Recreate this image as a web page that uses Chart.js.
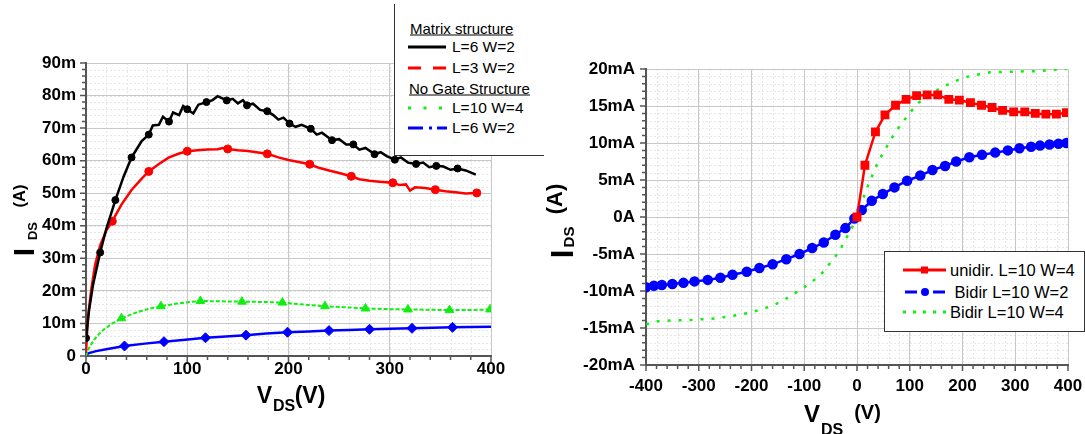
<!DOCTYPE html>
<html>
<head>
<meta charset="utf-8">
<script src="https://cdn.jsdelivr.net/npm/chart.js@4.4.1/dist/chart.umd.min.js"></script>
<style>
  body { margin:0; background:#fff; font-family:'Liberation Sans', Arial, sans-serif; }
  #wrap { position:relative; width:1085px; height:434px; overflow:hidden; }
  canvas { position:absolute; top:0; }
  .t { position:absolute; line-height:1; white-space:nowrap; font-weight:bold; color:#000; transform:translate(-50%,-50%); }
  .t.rot { transform:translate(-50%,-50%) rotate(-90deg); }
  .lg { position:absolute; line-height:1; white-space:nowrap; color:#000; transform:translateY(-50%); }
  .box { position:absolute; background:#fff; box-sizing:border-box; }
  svg { position:absolute; overflow:visible; }
</style>
</head>
<body>
<div id="wrap">
  <canvas id="left" width="540" height="434" style="left:0"></canvas>
  <canvas id="right" width="545" height="434" style="left:540px"></canvas>

  <!-- axis titles, left chart -->
  <div class="t rot" style="left:24px;top:251.5px;font-size:30px">I</div>
  <div class="t rot" style="left:32px;top:231px;font-size:13px">DS</div>
  <div class="t rot" style="left:19px;top:196px;font-size:16.5px">(A)</div>
  <div class="t" style="left:264.5px;top:395px;font-size:23px">V</div>
  <div class="t" style="left:284px;top:406px;font-size:16px">DS</div>
  <div class="t" style="left:310px;top:394.5px;font-size:23px">(V)</div>

  <!-- axis titles, right chart -->
  <div class="t rot" style="left:561.5px;top:254px;font-size:31px">I</div>
  <div class="t rot" style="left:567.5px;top:236.7px;font-size:15px">DS</div>
  <div class="t rot" style="left:554.6px;top:198.5px;font-size:22px">(A)</div>
  <div class="t" style="left:812px;top:413.5px;font-size:24px">V</div>
  <div class="t" style="left:832px;top:429.5px;font-size:16px">DS</div>
  <div class="t" style="left:867.5px;top:412.3px;font-size:20px">(V)</div>

  <!-- legend, left chart -->
  <div class="box" style="left:394px;top:4px;width:150px;height:152px;border-left:1px solid #333;border-bottom:1px solid #333"></div>
  <div class="lg" style="left:410px;top:27.5px;font-size:15px;text-decoration:underline">Matrix structure</div>
  <svg style="left:408px;top:47px" width="40" height="1"><line x1="0" y1="0" x2="38" y2="0" stroke="#000" stroke-width="3"/></svg>
  <div class="lg" style="left:452px;top:47px;font-size:15.5px">L=6 W=2</div>
  <svg style="left:408px;top:68px" width="40" height="1"><line x1="0" y1="0" x2="39" y2="0" stroke="#f00" stroke-width="3" stroke-dasharray="13 12"/></svg>
  <div class="lg" style="left:452px;top:68px;font-size:15.5px">L=3 W=2</div>
  <div class="lg" style="left:409px;top:88px;font-size:15px;text-decoration:underline">No Gate Structure</div>
  <svg style="left:408px;top:108px" width="40" height="1"><line x1="0" y1="0" x2="38" y2="0" stroke="#11ee11" stroke-width="3" stroke-dasharray="3 12.5"/></svg>
  <div class="lg" style="left:452px;top:108px;font-size:15.5px">L=10 W=4</div>
  <svg style="left:408px;top:128px" width="40" height="1"><line x1="0" y1="0" x2="39" y2="0" stroke="#00f" stroke-width="3" stroke-dasharray="15 6 3 5"/></svg>
  <div class="lg" style="left:452px;top:128px;font-size:15.5px">L=6 W=2</div>

  <!-- legend, right chart -->
  <div class="box" style="left:884px;top:251px;width:201px;height:81px;border:1px solid #333"></div>
  <svg style="left:903px;top:270px" width="44" height="1"><line x1="0" y1="0" x2="43" y2="0" stroke="#f00" stroke-width="3"/><rect x="18" y="-3.5" width="7" height="7" fill="#f00"/></svg>
  <div class="lg" style="left:950px;top:270px;font-size:16.5px">unidir. L=10 W=4</div>
  <svg style="left:903px;top:291.5px" width="44" height="1"><line x1="2" y1="0" x2="14" y2="0" stroke="#00f" stroke-width="3"/><line x1="30" y1="0" x2="42" y2="0" stroke="#00f" stroke-width="3"/><circle cx="22" cy="0" r="4" fill="#00f"/></svg>
  <div class="lg" style="left:950px;top:291.5px;font-size:16.5px">&nbsp;Bidir L=10 W=2</div>
  <svg style="left:903px;top:312px" width="44" height="1"><line x1="0" y1="0" x2="43" y2="0" stroke="#11ee11" stroke-width="3" stroke-dasharray="3 7"/></svg>
  <div class="lg" style="left:950px;top:312px;font-size:16.5px">Bidir L=10 W=4</div>
</div>

<script>
// ---------- left chart: I_DS vs V_DS (mA) ----------
const leftTicksX = [0, 100, 200, 300, 400];
const leftTicksY = [0, 10, 20, 30, 40, 50, 60, 70, 80, 90];

const blackV = [0, 3, 7, 14, 20, 29, 37, 45, 50, 55, 62, 66, 72, 76, 82, 86, 92, 96, 100, 106, 111, 119, 125, 130, 139, 145, 150, 155, 159, 165, 172, 179, 185, 190, 195, 201, 207, 213, 222, 228, 233, 243, 250, 257, 264, 270, 276, 285, 291, 297, 305, 311, 318, 326, 333, 339, 346, 353, 360, 367, 375, 385];
const blackI = [5.5, 14, 22, 31.8, 39, 47.9, 55, 61, 63.5, 66, 68, 70.8, 71, 73.5, 72, 74.8, 74, 76.8, 75.8, 74.5, 77.2, 78, 78.6, 79.8, 78.5, 79, 77.6, 78.6, 77, 77.5, 75.6, 75.2, 74, 72.6, 73.2, 71.4, 70.4, 71, 69.8, 68, 68.6, 66.3, 66.6, 65, 65, 63.4, 63.9, 62, 62.6, 61.4, 60.3, 61, 59.4, 59, 59.4, 58, 58.4, 58.2, 57.2, 57.6, 57, 55.7];
const blackMarkV = [0, 14, 29, 45, 62, 82, 100, 119, 139, 159, 179, 201, 222, 243, 264, 285, 305, 326, 346, 367];
const blackMarkI = [5.5, 31.8, 47.9, 61, 68, 72, 75.8, 78, 78.5, 77, 75.2, 71.4, 69.8, 66.3, 65, 62, 60.3, 59, 58.4, 57.6];

const redV = [0, 2, 5, 9, 14, 20, 26, 35, 45, 55, 62, 72, 82, 92, 100, 110, 120, 130, 135, 140, 150, 160, 170, 179, 190, 200, 210, 221, 230, 240, 250, 262, 270, 280, 290, 303, 310, 316, 320, 325, 335, 345, 355, 365, 375, 386];
const redI = [1, 12, 20, 28, 34, 38.5, 41.4, 46.5, 51, 54.5, 56.7, 59, 61, 62.2, 62.9, 63.2, 63.4, 63.5, 63.9, 63.6, 63.2, 63, 62.5, 62.1, 61, 60.2, 59.6, 58.9, 57.8, 57, 56.2, 55.2, 54.3, 53.8, 53.5, 53.2, 52.5, 52.7, 50.8, 51.8, 51.6, 51.1, 50.6, 50.3, 49.9, 50.1];
const redMarkV = [26, 62, 100, 140, 179, 221, 262, 303, 345, 386];
const redMarkI = [41.4, 56.7, 62.9, 63.6, 62.1, 58.9, 55.2, 53.2, 51.1, 50.1];

const greenV = [0, 3, 8, 15, 25, 35, 50, 62, 74, 90, 100, 113, 130, 153, 175, 194, 215, 236, 255, 276, 298, 318, 340, 359, 380, 399];
const greenI = [0, 2.5, 5, 7.5, 9.8, 11.6, 13.4, 14.5, 15.3, 16.1, 16.5, 16.9, 16.8, 16.7, 16.6, 16.4, 15.8, 15.3, 15, 14.6, 14.4, 14.3, 14.2, 14.1, 14.1, 14.3];
const greenMarkV = [35, 74, 113, 154, 194, 236, 276, 318, 359, 399];
const greenMarkI = [11.6, 15.3, 16.9, 16.7, 16.4, 15.3, 14.6, 14.3, 14.1, 14.3];

const blueV = [0, 2, 10, 20, 38, 58, 77, 98, 118, 138, 158, 178, 199, 220, 240, 260, 280, 300, 322, 342, 362, 380, 400];
const blueI = [0, 0.8, 1.5, 2.1, 3.07, 3.8, 4.4, 5.0, 5.6, 6.0, 6.4, 6.9, 7.3, 7.55, 7.8, 8.0, 8.2, 8.35, 8.5, 8.65, 8.8, 8.9, 9.0];
const blueMarkV = [38, 77, 118, 158, 199, 240, 280, 322, 362];
const blueMarkI = [3.07, 4.4, 5.6, 6.4, 7.3, 7.8, 8.2, 8.5, 8.8];

// ---------- right chart: I_DS vs V_DS (mA) ----------
const rightTicksX = [-400, -300, -200, -100, 0, 100, 200, 300, 400];
const rightTicksY = [-20, -15, -10, -5, 0, 5, 10, 15, 20];

const uniV = [0, 15, 35, 53, 73, 93, 113, 133, 153, 174, 194, 215, 236, 256, 276, 297, 318, 338, 358, 378, 397];
const uniI = [0, 7.0, 11.5, 13.8, 15.1, 15.9, 16.4, 16.5, 16.5, 15.9, 15.8, 15.45, 15.1, 14.8, 14.4, 14.2, 14.2, 14.0, 13.9, 13.9, 14.1];

const bi2V = [-400, -385, -370, -350, -329, -308, -283, -259, -236, -209, -185, -160, -134, -109, -85, -63, -41, -22, -5, 9, 28, 49, 71, 95, 120, 143, 167, 188, 213, 237, 262, 286, 308, 330, 347, 365, 382, 397];
const bi2I = [-9.5, -9.3, -9.2, -9.05, -8.9, -8.7, -8.5, -8.2, -7.8, -7.4, -6.9, -6.4, -5.7, -5.0, -4.2, -3.45, -2.4, -1.5, -0.2, 0.95, 2.2, 3.1, 4.0, 4.9, 5.6, 6.35, 6.9, 7.5, 8.07, 8.4, 8.7, 9.0, 9.3, 9.5, 9.65, 9.8, 9.9, 10.0];

const bi4V = [-400, -381, -356, -312, -267, -223, -201, -179, -160, -141, -122, -100, -81, -62, -49, -34, -21, -11, -2, 9, 17, 26.5, 36, 45.5, 58, 73, 85, 99, 116, 134, 153, 172, 191, 210, 232, 252, 273, 297, 320, 342, 366, 397];
const bi4I = [-14.5, -14.1, -14.0, -13.9, -13.7, -13.2, -12.9, -12.4, -12.0, -11.3, -10.5, -9.5, -8.5, -7.3, -6.0, -4.7, -2.9, -1.75, 0, 1.9, 3.6, 5.2, 6.8, 8.15, 9.7, 11.5, 12.65, 14.0, 15.4, 16.35, 17.2, 17.9, 18.5, 18.96, 19.3, 19.55, 19.6, 19.64, 19.7, 19.7, 19.86, 20.0];

Chart.defaults.font.family = "'Liberation Sans', Arial, sans-serif";
Chart.defaults.color = '#000';

function pts(xs, ys) {
  return xs.map((x, i) => ({ x: x, y: ys[i] }));
}

function curve(xs, ys, color, width, dash) {
  return { data: pts(xs, ys), showLine: true, borderColor: color, borderWidth: width,
           borderDash: dash || [], pointRadius: 0, fill: false };
}

function marks(xs, ys, color, style, r) {
  return { data: pts(xs, ys), showLine: false, pointStyle: style, pointRadius: r,
           backgroundColor: color, borderColor: color, borderWidth: 1 };
}

// dotted minor grid + tick marks (Origin style)
const minorGrid = {
  id: 'minorGrid',
  beforeDraw(chart, args, o) {
    const { ctx, chartArea: a, scales: { x, y } } = chart;
    ctx.save();
    ctx.strokeStyle = '#e6e6e6';
    ctx.lineWidth = 1;
    ctx.setLineDash([2, 2]);
    ctx.beginPath();
    const nx = Math.round((x.max - x.min) / o.xStep);
    for (let i = 0; i <= nx; i++) {
      const p = Math.round(x.getPixelForValue(x.min + i * o.xStep)) + 0.5;
      ctx.moveTo(p, a.top); ctx.lineTo(p, a.bottom);
    }
    const ny = Math.round((y.max - y.min) / o.yStep);
    for (let i = 0; i <= ny; i++) {
      const p = Math.round(y.getPixelForValue(y.min + i * o.yStep)) + 0.5;
      ctx.moveTo(a.left, p); ctx.lineTo(a.right, p);
    }
    ctx.stroke();
    ctx.restore();
  },
  beforeDatasetsDraw(chart, args, o) {
    const { ctx, chartArea: a, scales: { x, y } } = chart;
    const major = (v, m) => Math.abs(v / m - Math.round(v / m)) < 1e-6;
    ctx.save();
    ctx.strokeStyle = '#555';
    ctx.lineWidth = 1.5;
    ctx.beginPath();
    const nx = Math.round((x.max - x.min) / o.xStep);
    for (let i = 0; i <= nx; i++) {
      const v = x.min + i * o.xStep;
      const p = x.getPixelForValue(v);
      const len = major(v, o.xMajor) ? 6 : 4;
      ctx.moveTo(p, a.bottom); ctx.lineTo(p, a.bottom + len);
    }
    const ny = Math.round((y.max - y.min) / o.yTick);
    for (let i = 0; i <= ny; i++) {
      const v = y.min + i * o.yTick;
      const p = y.getPixelForValue(v);
      const len = major(v, o.yMajor) ? 6 : 4;
      ctx.moveTo(a.left, p); ctx.lineTo(a.left - len, p);
    }
    ctx.stroke();
    ctx.restore();
  }
};

const tickFont = { size: 17, weight: 'bold' };

function axes(tx, ty, yLabel, xPad, yPad, xH, yW) {
  return {
    x: {
      type: 'linear', min: tx[0], max: tx[tx.length - 1],
      afterBuildTicks: s => { s.ticks = tx.map(v => ({ value: v })); },
      ticks: { font: tickFont, color: '#000', padding: xPad, maxRotation: 0, autoSkip: false },
      grid: { color: '#c8c8c8', lineWidth: 1, drawTicks: false },
      border: { color: '#555', width: 2 },
      afterFit: s => { s.height = xH; s.paddingLeft = 0; s.paddingRight = 0; }
    },
    y: {
      type: 'linear', min: ty[0], max: ty[ty.length - 1],
      afterBuildTicks: s => { s.ticks = ty.map(v => ({ value: v })); },
      ticks: { font: tickFont, color: '#000', padding: yPad, autoSkip: false, callback: yLabel },
      grid: { color: '#c8c8c8', lineWidth: 1, drawTicks: false },
      border: { color: '#555', width: 2 },
      afterFit: s => { s.width = yW; s.paddingTop = 0; s.paddingBottom = 0; }
    }
  };
}

new Chart(document.getElementById('left'), {
  type: 'scatter',
  data: {
    datasets: [
      marks(blackMarkV, blackMarkI, '#000', 'circle', 3.5),
      curve(blackV, blackI, '#000', 2.5),
      marks(redMarkV, redMarkI, '#f00', 'circle', 4),
      curve(redV, redI, '#f00', 2.5),
      marks(greenMarkV, greenMarkI, '#11ee11', 'triangle', 5),
      curve(greenV, greenI, '#11ee11', 2, [4, 2]),
      marks(blueMarkV, blueMarkI, '#00f', 'rectRot', 5),
      curve(blueV, blueI, '#00f', 2.5)
    ]
  },
  options: {
    responsive: false, animation: false, events: [],
    layout: { padding: { top: 63, right: 49, left: 0, bottom: 0 } },
    plugins: {
      legend: { display: false }, tooltip: { enabled: false },
      minorGrid: { xStep: 20, yStep: 2, yTick: 2, xMajor: 100, yMajor: 10 }
    },
    scales: axes(leftTicksX, leftTicksY, v => v === 0 ? '0' : v + 'm', 3, 10, 78, 86)
  },
  plugins: [minorGrid]
});

new Chart(document.getElementById('right'), {
  type: 'scatter',
  data: {
    datasets: [
      Object.assign(curve(uniV, uniI, '#f00', 2.5), { pointStyle: 'rect', pointRadius: 4.5, backgroundColor: '#f00' }),
      Object.assign(curve(bi2V, bi2I, '#00f', 2.5), { pointStyle: 'circle', pointRadius: 4, backgroundColor: '#00f' }),
      curve(bi4V, bi4I, '#11ee11', 2.5, [3, 8])
    ]
  },
  options: {
    responsive: false, animation: false, events: [],
    layout: { padding: { top: 69, right: 17, left: 0, bottom: 0 } },
    plugins: {
      legend: { display: false }, tooltip: { enabled: false },
      minorGrid: { xStep: 20, yStep: 1, yTick: 1, xMajor: 100, yMajor: 5 }
    },
    scales: axes(rightTicksX, rightTicksY, v => v === 0 ? '0A' : v + 'mA', 11, 11, 69, 106)
  },
  plugins: [minorGrid]
});
</script>
</body>
</html>
